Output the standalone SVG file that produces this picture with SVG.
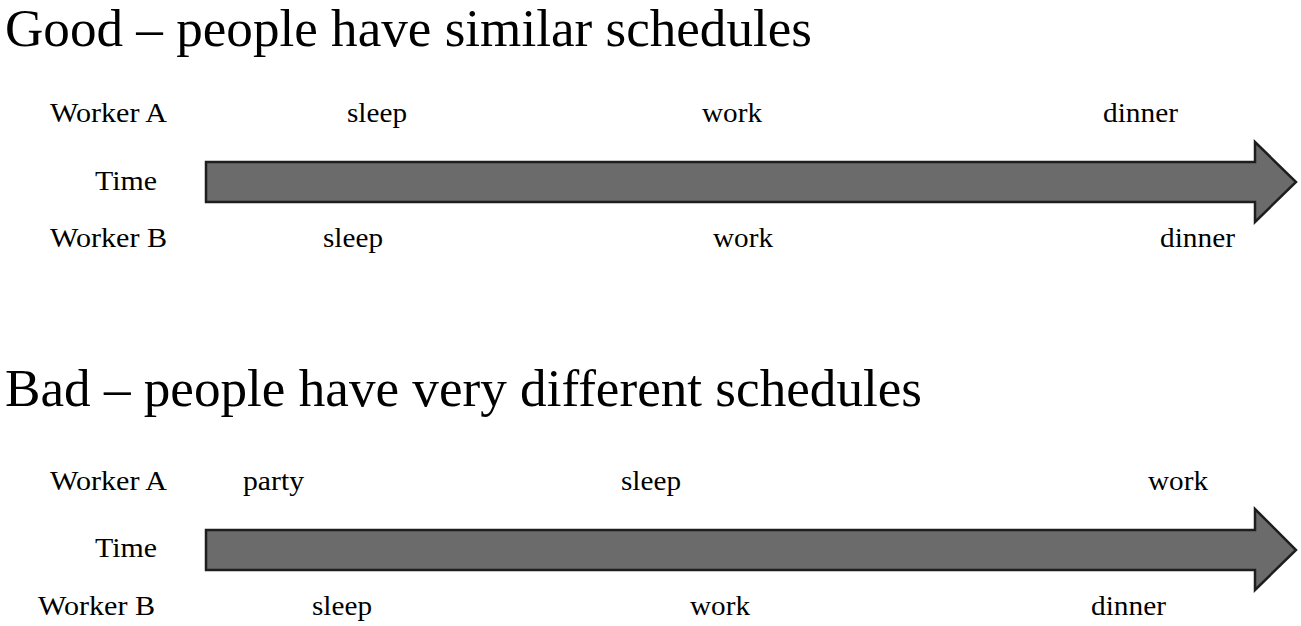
<svg xmlns="http://www.w3.org/2000/svg" width="1301" height="626" viewBox="0 0 1301 626">
<style>
text{font-family:"Liberation Serif","Times New Roman",serif;fill:#000}
.t{font-size:53px}
.l{font-size:27px}
.arr{fill:#6b6b6b;stroke:#1e1e1e;stroke-width:2.5;stroke-linejoin:miter}
</style>
<rect width="1301" height="626" fill="#fff"/>
<g id="title-good"><text class="t" x="5" y="46" textLength="807" lengthAdjust="spacingAndGlyphs">Good – people have similar schedules</text></g>
<g id="good-labels">
<text class="l" x="50" y="122" textLength="117" lengthAdjust="spacingAndGlyphs">Worker A</text>
<text class="l" x="95" y="190" textLength="62" lengthAdjust="spacingAndGlyphs">Time</text>
<text class="l" x="50" y="247" textLength="117" lengthAdjust="spacingAndGlyphs">Worker B</text>
</g>
<g id="good-a">
<text class="l" x="347" y="122" textLength="60" lengthAdjust="spacingAndGlyphs">sleep</text>
<text class="l" x="702" y="122" textLength="60" lengthAdjust="spacingAndGlyphs">work</text>
<text class="l" x="1103" y="122" textLength="75" lengthAdjust="spacingAndGlyphs">dinner</text>
</g>
<g id="good-b">
<text class="l" x="323" y="247" textLength="60" lengthAdjust="spacingAndGlyphs">sleep</text>
<text class="l" x="713" y="247" textLength="60" lengthAdjust="spacingAndGlyphs">work</text>
<text class="l" x="1160" y="247" textLength="75" lengthAdjust="spacingAndGlyphs">dinner</text>
</g>
<g id="title-bad"><text class="t" x="5" y="406" textLength="917" lengthAdjust="spacingAndGlyphs">Bad – people have very different schedules</text></g>
<g id="bad-labels">
<text class="l" x="50" y="490" textLength="117" lengthAdjust="spacingAndGlyphs">Worker A</text>
<text class="l" x="95" y="557" textLength="62" lengthAdjust="spacingAndGlyphs">Time</text>
<text class="l" x="38" y="615" textLength="117" lengthAdjust="spacingAndGlyphs">Worker B</text>
</g>
<g id="bad-a">
<text class="l" x="243" y="490" textLength="61" lengthAdjust="spacingAndGlyphs">party</text>
<text class="l" x="621" y="490" textLength="60" lengthAdjust="spacingAndGlyphs">sleep</text>
<text class="l" x="1148" y="490" textLength="60" lengthAdjust="spacingAndGlyphs">work</text>
</g>
<g id="bad-b">
<text class="l" x="312" y="615" textLength="60" lengthAdjust="spacingAndGlyphs">sleep</text>
<text class="l" x="690" y="615" textLength="60" lengthAdjust="spacingAndGlyphs">work</text>
<text class="l" x="1091" y="615" textLength="75" lengthAdjust="spacingAndGlyphs">dinner</text>
</g>
<g id="connectors">
<path class="arr" d="M206,162 H1255 V142 L1296,182 L1255,222 V202 H206 Z"/>
<path class="arr" d="M206,530 H1255 V509 L1296,550 L1255,590 V570 H206 Z"/>
</g>
</svg>
